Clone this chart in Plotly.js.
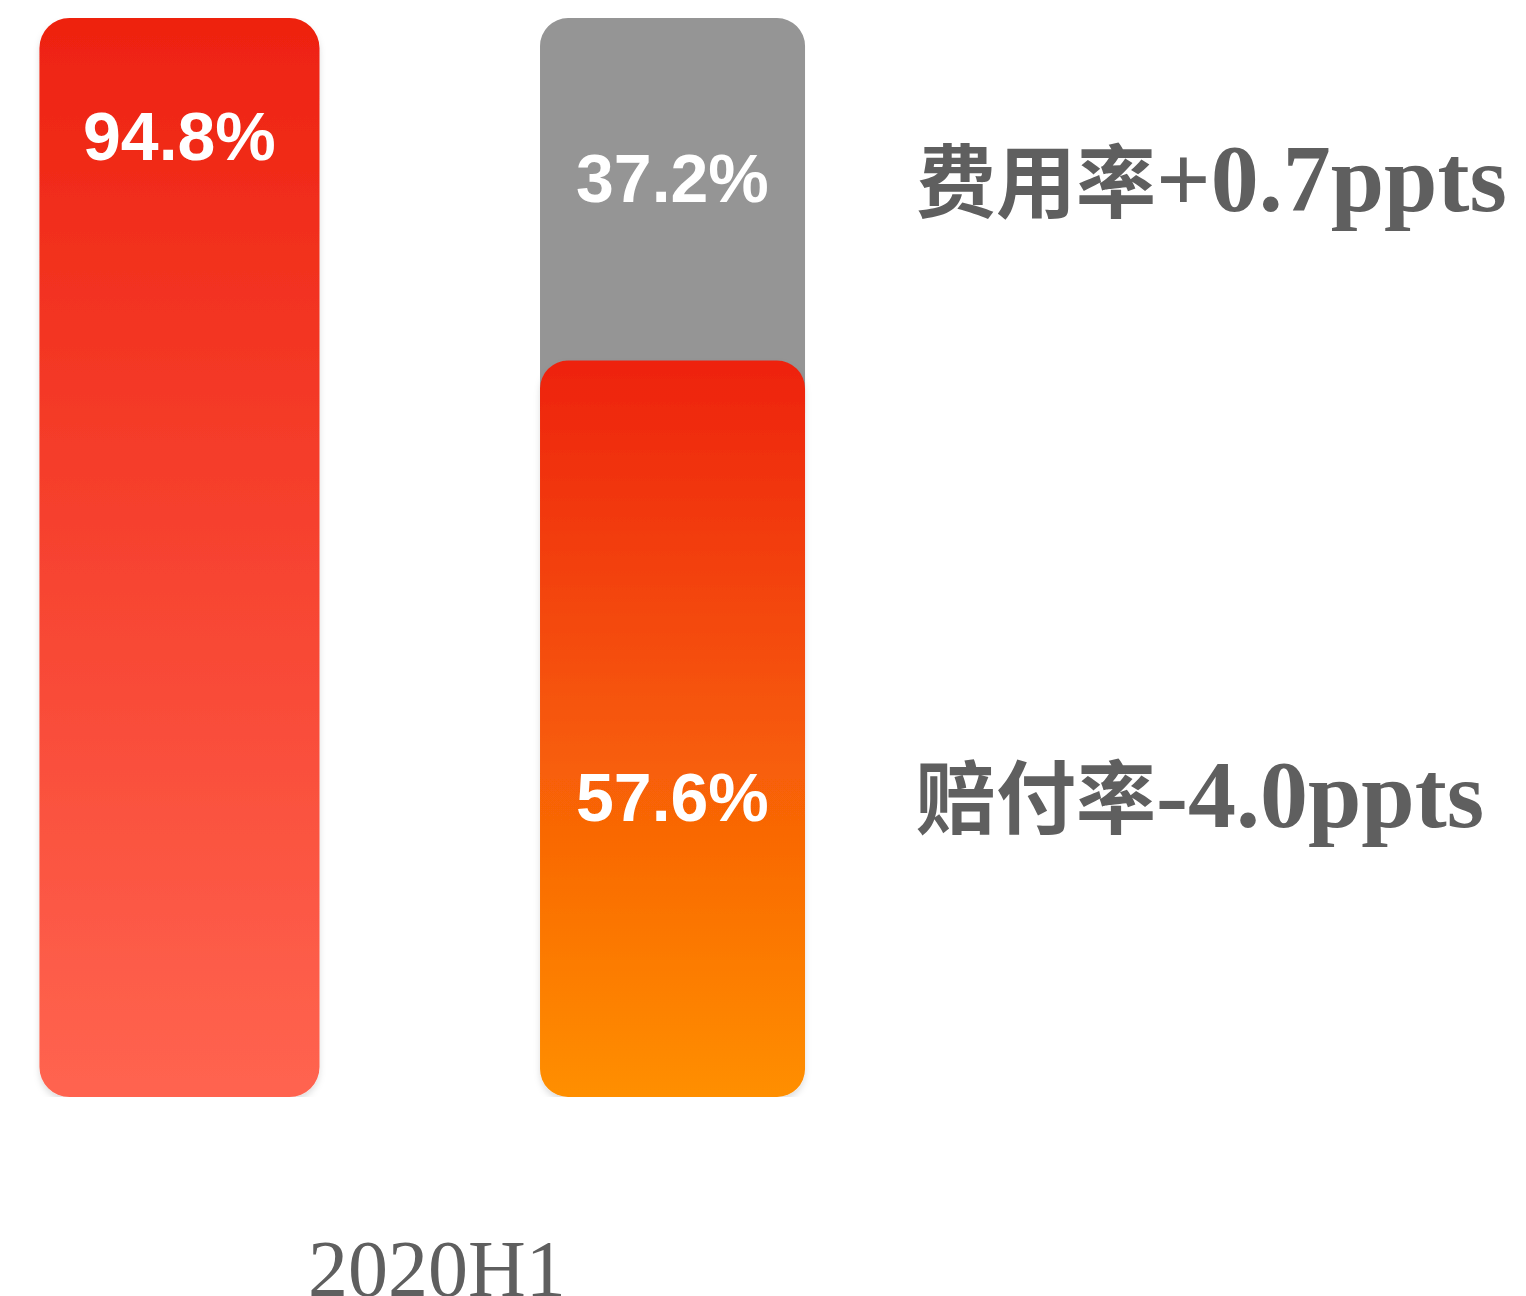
<!DOCTYPE html>
<html>
<head>
<meta charset="utf-8">
<script src="https://cdn.plot.ly/plotly-3.0.1.min.js"></script>
<style>html,body{margin:0;padding:0;background:#fff;}#chart{width:1526px;height:1296px;}</style>
</head>
<body>
<div id="chart"></div>
<script>
// ---- data ----
const periods = ['2020H1'];
const combinedRatio = [94.8];   // 综合成本率
const expenseRatio = [37.2];    // 费用率
const lossRatio = [57.6];       // 赔付率
const expenseChange = ['+0.7ppts'];
const lossChange = ['-4.0ppts'];
const expenseName = '费用率';
const lossName = '赔付率';

const barPos = [0, 1];
const pct = v => v.toFixed(1) + '%';

const traces = [
  {type: 'bar', x: [barPos[0]], y: combinedRatio, width: 0.568, marker: {color: '#F23A24', cornerradius: 30}, hoverinfo: 'none'},
  {type: 'bar', x: [barPos[1]], y: [expenseRatio[0]], base: [lossRatio[0]], width: 0.5375, marker: {color: '#959595', cornerradius: 28}, hoverinfo: 'none'},
  {type: 'bar', x: [barPos[1]], y: lossRatio, width: 0.5375, yaxis: 'y2', marker: {color: '#F35A08', cornerradius: 28}, hoverinfo: 'none'}
];

const labelFont = {family: 'Liberation Sans, Arial, sans-serif', size: 68, color: '#ffffff', weight: 'bold'};
const sideFont = {family: 'Liberation Serif, Noto Sans CJK SC, serif', size: 96, color: '#5f5f5f', weight: 'bold'};
const cjk = s => '<span style="font-size:80px">' + s + '</span>';

const annotations = [
  {x: barPos[0], y: combinedRatio[0], xref: 'x', yref: 'y', text: pct(combinedRatio[0]), showarrow: false, yanchor: 'middle', yshift: -118, font: labelFont},
  {x: barPos[1], y: combinedRatio[0], xref: 'x', yref: 'y', text: pct(expenseRatio[0]), showarrow: false, yanchor: 'middle', yshift: -160, font: labelFont},
  {x: barPos[1], y: lossRatio[0], xref: 'x', yref: 'y2', text: pct(lossRatio[0]), showarrow: false, yanchor: 'middle', yshift: -436, font: labelFont},
  {x: 1.49, y: combinedRatio[0], xref: 'x', yref: 'y', text: cjk(expenseName) + expenseChange[0], showarrow: false, xanchor: 'left', yanchor: 'middle', yshift: -160, font: sideFont},
  {x: 1.49, y: lossRatio[0], xref: 'x', yref: 'y2', text: cjk(lossName) + lossChange[0], showarrow: false, xanchor: 'left', yanchor: 'middle', yshift: -434, font: sideFont},
  {x: 0.522, y: 0, xref: 'x', yref: 'paper', text: periods[0], showarrow: false, yanchor: 'middle', yshift: -172, font: {family: 'Liberation Serif, serif', size: 80, color: '#5f5f5f'}}
];

const layout = {
  width: 1526, height: 1296,
  margin: {l: 0, r: 0, t: 18, b: 199, pad: 0},
  paper_bgcolor: '#ffffff', plot_bgcolor: '#ffffff',
  showlegend: false,
  barmode: 'overlay',
  xaxis: {range: [-0.364, 2.731], visible: false, fixedrange: true},
  yaxis: {range: [0, 94.8], visible: false, fixedrange: true},
  yaxis2: {range: [0, 84.4], overlaying: 'y', visible: false, fixedrange: true},
  annotations: annotations
};

const NS = 'http://www.w3.org/2000/svg';
function mk(tag, attrs, parent) {
  const e = document.createElementNS(NS, tag);
  for (const k in attrs) e.setAttribute(k, attrs[k]);
  if (parent) parent.appendChild(e);
  return e;
}
function roundRect(b, rt, rb) {
  const x = b.x, y = b.y, w = b.width, h = b.height;
  return 'M' + (x + rt) + ',' + y + 'H' + (x + w - rt) + 'A' + rt + ',' + rt + ' 0 0 1 ' + (x + w) + ',' + (y + rt) +
    'V' + (y + h - rb) + 'A' + rb + ',' + rb + ' 0 0 1 ' + (x + w - rb) + ',' + (y + h) +
    'H' + (x + rb) + 'A' + rb + ',' + rb + ' 0 0 1 ' + x + ',' + (y + h - rb) +
    'V' + (y + rt) + 'A' + rt + ',' + rt + ' 0 0 1 ' + (x + rt) + ',' + y + 'Z';
}

const gd = document.getElementById('chart');
Plotly.newPlot(gd, traces, layout, {staticPlot: true, displayModeBar: false}).then(function () {
  const svg = gd.querySelector('svg.main-svg');
  let defs = svg.querySelector('defs');
  if (!defs) defs = mk('defs', {}, svg);
  const g1 = mk('linearGradient', {id: 'gRed', x1: 0, y1: 0, x2: 0, y2: 1}, defs);
  mk('stop', {offset: '0%', 'stop-color': '#EE2210'}, g1);
  mk('stop', {offset: '100%', 'stop-color': '#FF6450'}, g1);
  const g2 = mk('linearGradient', {id: 'gOrg', x1: 0, y1: 0, x2: 0, y2: 1}, defs);
  mk('stop', {offset: '0%', 'stop-color': '#EE2210'}, g2);
  mk('stop', {offset: '100%', 'stop-color': '#FF8F00'}, g2);
  const f = mk('filter', {id: 'shd', x: '-10%', y: '-10%', width: '120%', height: '120%'}, defs);
  mk('feDropShadow', {dx: 0, dy: 4, stdDeviation: 3, 'flood-color': '#000', 'flood-opacity': 0.13}, f);

  gd.querySelectorAll('.barlayer .trace').forEach(function (tr) {
    const d = tr.__data__;
    const idx = d && d[0] && d[0].trace ? d[0].trace.index : -1;
    tr.querySelectorAll('path').forEach(function (p) {
      const b = p.getBBox();
      if (idx === 0) {
        p.setAttribute('d', roundRect(b, 30, 30));
        p.style.fill = 'url(#gRed)';
        p.setAttribute('filter', 'url(#shd)');
      } else if (idx === 2) {
        p.setAttribute('d', roundRect(b, 28, 28));
        p.style.fill = 'url(#gOrg)';
        p.setAttribute('filter', 'url(#shd)');
      }
    });
  });
});
</script>
</body>
</html>
